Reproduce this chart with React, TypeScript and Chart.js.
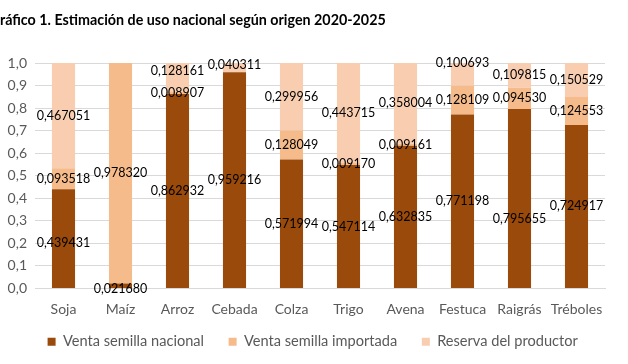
import React, { useEffect, useRef } from "react";
import { Chart, registerables } from "chart.js";

Chart.register(...registerables);

const titleText = "Gráfico 1. Estimación de uso nacional según origen 2020-2025";
const categories = ["Soja", "Maíz", "Arroz", "Cebada", "Colza", "Trigo", "Avena", "Festuca", "Raigrás", "Tréboles"];
const ventaNacional = [0.439431, 0.02168, 0.862932, 0.959216, 0.571994, 0.547114, 0.632835, 0.771198, 0.795655, 0.724917];
const ventaImportada = [0.093518, 0.97832, 0.008907, null, 0.128049, 0.00917, 0.009161, 0.128109, 0.09453, 0.124553];
const reservaProductor = [0.467051, null, 0.128161, 0.040311, 0.299956, 0.443715, 0.358004, 0.100693, 0.109815, 0.150529];
const yTicks = [0, 0.1, 0.2, 0.3, 0.4, 0.5, 0.6, 0.7, 0.8, 0.9, 1.0];

const seriesNames = ["Venta semilla nacional", "Venta semilla importada", "Reserva del productor"];
const seriesColors = ["#9A4A0A", "#F6BB8A", "#F9CEB0"];

// Excel moved a few overlapping labels; pixel nudges (dataset:index -> dy)
const labelNudge: Record<string, number> = {
  "0:0": 4,
  "0:1": 3,
  "2:2": -6,
  "2:3": -3,
  "2:7": -11,
  "0:8": 20,
};

const FONT = "Lato, 'Open Sans', sans-serif";

const fmt = (v: number, d: number) => v.toFixed(d).replace(".", ",");

const dataLabelPlugin = {
  id: "dataLabels",
  afterDatasetsDraw(chart: any) {
    const ctx = chart.ctx;
    ctx.save();
    ctx.font = `12.5px ${FONT}`;
    ctx.fillStyle = "#000000";
    ctx.textAlign = "center";
    ctx.textBaseline = "middle";
    chart.data.datasets.forEach((ds: any, di: number) => {
      const meta = chart.getDatasetMeta(di);
      meta.data.forEach((el: any, i: number) => {
        const v = ds.data[i];
        if (v == null || v === 0) return;
        const y = (el.y + el.base) / 2 + (labelNudge[`${di}:${i}`] || 0);
        ctx.fillText(fmt(v, 6), el.x, y);
      });
    });
    ctx.restore();
  },
};

const titlePlugin = {
  id: "clippedTitle",
  afterDraw(chart: any) {
    const ctx = chart.ctx;
    ctx.save();
    ctx.font = `bold 14.3px ${FONT}`;
    ctx.fillStyle = "#000000";
    ctx.textAlign = "left";
    ctx.textBaseline = "middle";
    const gw = ctx.measureText(titleText.charAt(0)).width;
    ctx.fillText(titleText, -gw, 20);
    ctx.restore();
  },
};

export default function App() {
  const ref = useRef<HTMLCanvasElement>(null);
  useEffect(() => {
    if (!ref.current) return;
    const chart = new Chart(ref.current, {
      type: "bar",
      data: {
        labels: categories,
        datasets: [ventaNacional, ventaImportada, reservaProductor].map((d, k) => ({
          label: seriesNames[k],
          data: d as any,
          backgroundColor: seriesColors[k],
          borderWidth: 0,
          barPercentage: 0.405,
          categoryPercentage: 1,
        })),
      },
      options: {
        responsive: false,
        animation: false,
        layout: { padding: { top: 63, right: 23, left: 0, bottom: 5 } },
        plugins: {
          legend: {
            position: "bottom",
            fullSize: false,
            maxHeight: 40,
            labels: {
              boxWidth: 8,
              boxHeight: 8,
              padding: 10,
              color: "#595959",
              font: { family: FONT, size: 14.6 },
              generateLabels: (c: any) =>
                Chart.defaults.plugins.legend.labels.generateLabels(c).map((l: any) => ({
                  ...l,
                  text: l.text + "\u2002\u2002",
                })),
            },
          },
          title: { display: false },
          tooltip: { enabled: false },
        },
        scales: {
          x: {
            stacked: true,
            grid: { display: false, drawTicks: false },
            border: { display: true, color: "#d9d9d9" },
            ticks: { color: "#595959", font: { family: FONT, size: 14 }, padding: 13, maxRotation: 0, autoSkip: false },
            afterFit: (s: any) => { s.height = 36; },
          },
          y: {
            stacked: true,
            min: 0,
            max: 1,
            afterBuildTicks: (s: any) => { s.ticks = yTicks.map((v) => ({ value: v })); },
            ticks: { color: "#595959", font: { family: FONT, size: 14 }, padding: 8, callback: (v: any) => fmt(Number(v), 1) },
            grid: { color: "#d9d9d9", drawTicks: false },
            border: { display: false },
            afterFit: (s: any) => { s.width = 35; },
          },
        },
      },
      plugins: [dataLabelPlugin, titlePlugin],
    });
    return () => chart.destroy();
  }, []);
  return (
    <div style={{ position: "fixed", left: 0, top: 0, width: 628, height: 364, background: "#fff" }}>
      <canvas ref={ref} width={628} height={364} />
    </div>
  );
}
